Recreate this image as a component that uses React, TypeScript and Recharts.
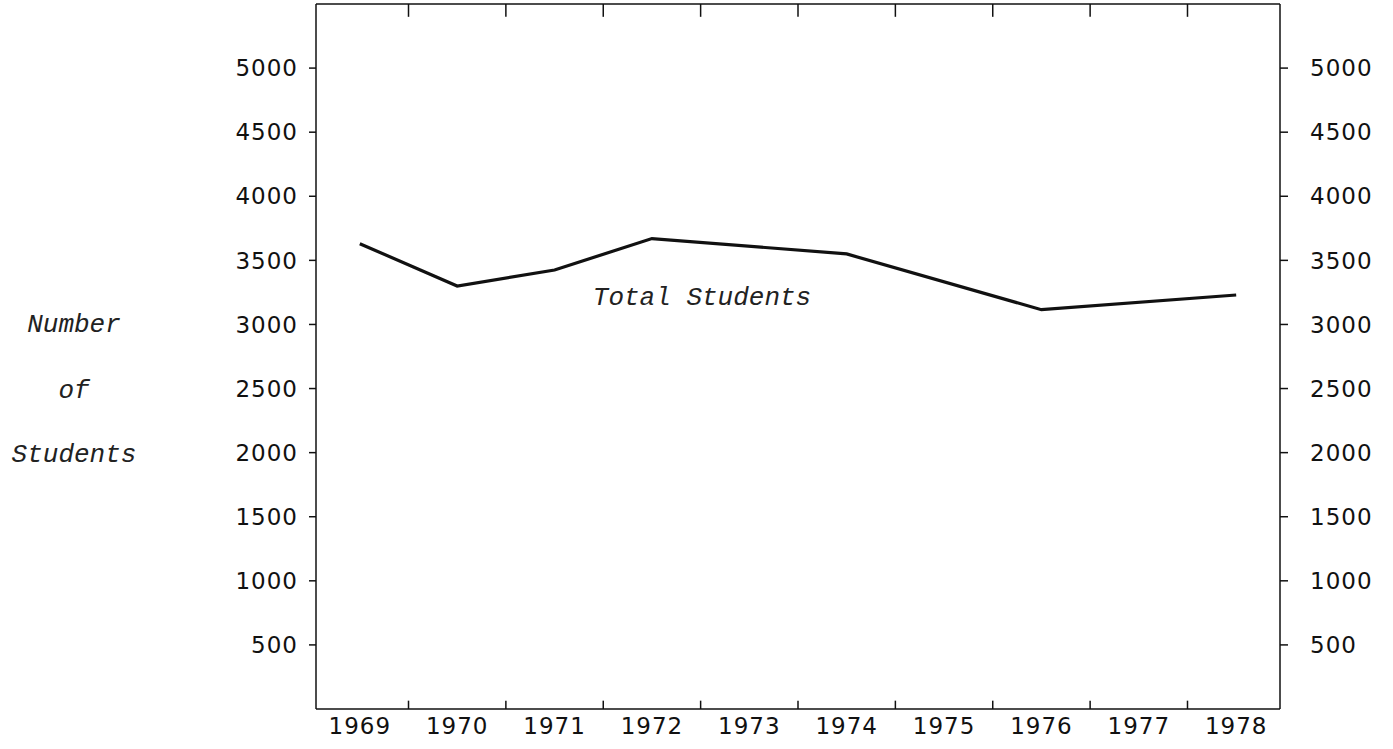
import { ComposedChart, Line, XAxis, YAxis, ReferenceLine, Customized } from "recharts";

// survey years that have a count, and the total enrolment for each
const years = [1969, 1970, 1971, 1972, 1974, 1976, 1978];
const totalStudents = [3630, 3300, 3425, 3670, 3550, 3115, 3230];

// axis labels and the in-between tick marks of the frame
const yearTicks = [1969, 1970, 1971, 1972, 1973, 1974, 1975, 1976, 1977, 1978];
const yearGaps = [1969.5, 1970.5, 1971.5, 1972.5, 1973.5, 1974.5, 1975.5, 1976.5, 1977.5];
const countTicks = [500, 1000, 1500, 2000, 2500, 3000, 3500, 4000, 4500, 5000];
const yTitle = ["Number", "of", "Students"];
const seriesName = "Total Students";

const data = years.map((year, i) => ({ year, total: totalStudents[i] }));

const numFont = {
	fontFamily: "DejaVu Sans",
	fontSize: 23,
	fill: "#111",
	letterSpacing: 1,
};
const typeFont = {
	fontFamily: "Liberation Mono",
	fontStyle: "italic",
	fontSize: 26,
	fill: "#222",
};

const xDomain = [1968.55, 1978.45];
const yMax = 5500;
const yDomain = [0, yMax];
const frameLine = { stroke: "#111", strokeWidth: 1.5 };
const noLabel = () => <g />;

function Notes() {
	return (
		<g>
			<text x={702} y={298} textAnchor="middle" dominantBaseline="central" style={typeFont}>
				{seriesName}
			</text>
			{yTitle.map((t, i) => (
				<text
					key={t}
					x={74}
					y={[325, 391, 455][i]}
					textAnchor="middle"
					dominantBaseline="central"
					style={typeFont}
				>
					{t}
				</text>
			))}
		</g>
	);
}

export default function App() {
	return (
		<div style={{ position: "absolute", left: 0, top: 0, width: 1393, height: 749, background: "#fff" }}>
			<ComposedChart
				width={1393}
				height={749}
				data={data}
				margin={{ top: 4, right: 33, bottom: 0, left: 236 }}
			>
				{/* year labels */}
				<XAxis
					xAxisId="main"
					dataKey="year"
					type="number"
					domain={xDomain}
					allowDataOverflow
					ticks={yearTicks}
					interval={0}
					tickLine={false}
					axisLine={false}
					tickSize={0}
					tickMargin={9}
					height={40}
					tick={numFont}
				/>
				{/* frame bottom and top */}
				<XAxis
					xAxisId="bottomFrame"
					dataKey="year"
					type="number"
					domain={xDomain}
					allowDataOverflow
					ticks={yearGaps}
					mirror
					height={1}
					tick={noLabel}
					tickLine={false}
					axisLine={frameLine}
				/>
				<XAxis
					xAxisId="topFrame"
					orientation="top"
					dataKey="year"
					type="number"
					domain={xDomain}
					allowDataOverflow
					ticks={yearGaps}
					mirror
					height={1}
					tick={noLabel}
					tickLine={false}
					axisLine={frameLine}
				/>
				{/* left count labels */}
				<YAxis
					yAxisId="main"
					type="number"
					domain={yDomain}
					allowDataOverflow
					ticks={countTicks}
					interval={0}
					tickLine={false}
					axisLine={false}
					tickSize={0}
					tickMargin={18}
					width={80}
					tick={numFont}
				/>
				<YAxis
					yAxisId="leftTicks"
					type="number"
					domain={yDomain}
					allowDataOverflow
					ticks={countTicks}
					interval={0}
					mirror
					width={1}
					tick={noLabel}
					tickLine={frameLine}
					axisLine={frameLine}
					tickSize={-7}
				/>
				{/* right count labels */}
				<YAxis
					yAxisId="right"
					orientation="right"
					type="number"
					domain={yDomain}
					allowDataOverflow
					ticks={countTicks}
					interval={0}
					tickLine={false}
					axisLine={false}
					tickSize={0}
					tickMargin={30}
					width={80}
					tick={numFont}
				/>
				<YAxis
					yAxisId="rightTicks"
					orientation="right"
					type="number"
					domain={yDomain}
					allowDataOverflow
					ticks={countTicks}
					interval={0}
					mirror
					width={1}
					tick={noLabel}
					tickLine={frameLine}
					axisLine={frameLine}
					tickSize={-8}
				/>
				{/* short inward marks between the years, bottom and top */}
				{yearGaps.map((g) => (
					<ReferenceLine
						key={`b${g}`}
						xAxisId="main"
						yAxisId="main"
						segment={[
							{ x: g, y: 0 },
							{ x: g, y: 65 },
						]}
						stroke="#111"
						strokeWidth={1.5}
					/>
				))}
				{yearGaps.map((g) => (
					<ReferenceLine
						key={`t${g}`}
						xAxisId="main"
						yAxisId="main"
						segment={[
							{ x: g, y: yMax },
							{ x: g, y: yMax - 100 },
						]}
						stroke="#111"
						strokeWidth={1.5}
					/>
				))}
				<Line
					xAxisId="main"
					yAxisId="main"
					type="linear"
					dataKey="total"
					stroke="#111"
					strokeWidth={3.2}
					dot={false}
					activeDot={false}
					isAnimationActive={false}
				/>
				<Customized component={Notes} />
			</ComposedChart>
		</div>
	);
}
